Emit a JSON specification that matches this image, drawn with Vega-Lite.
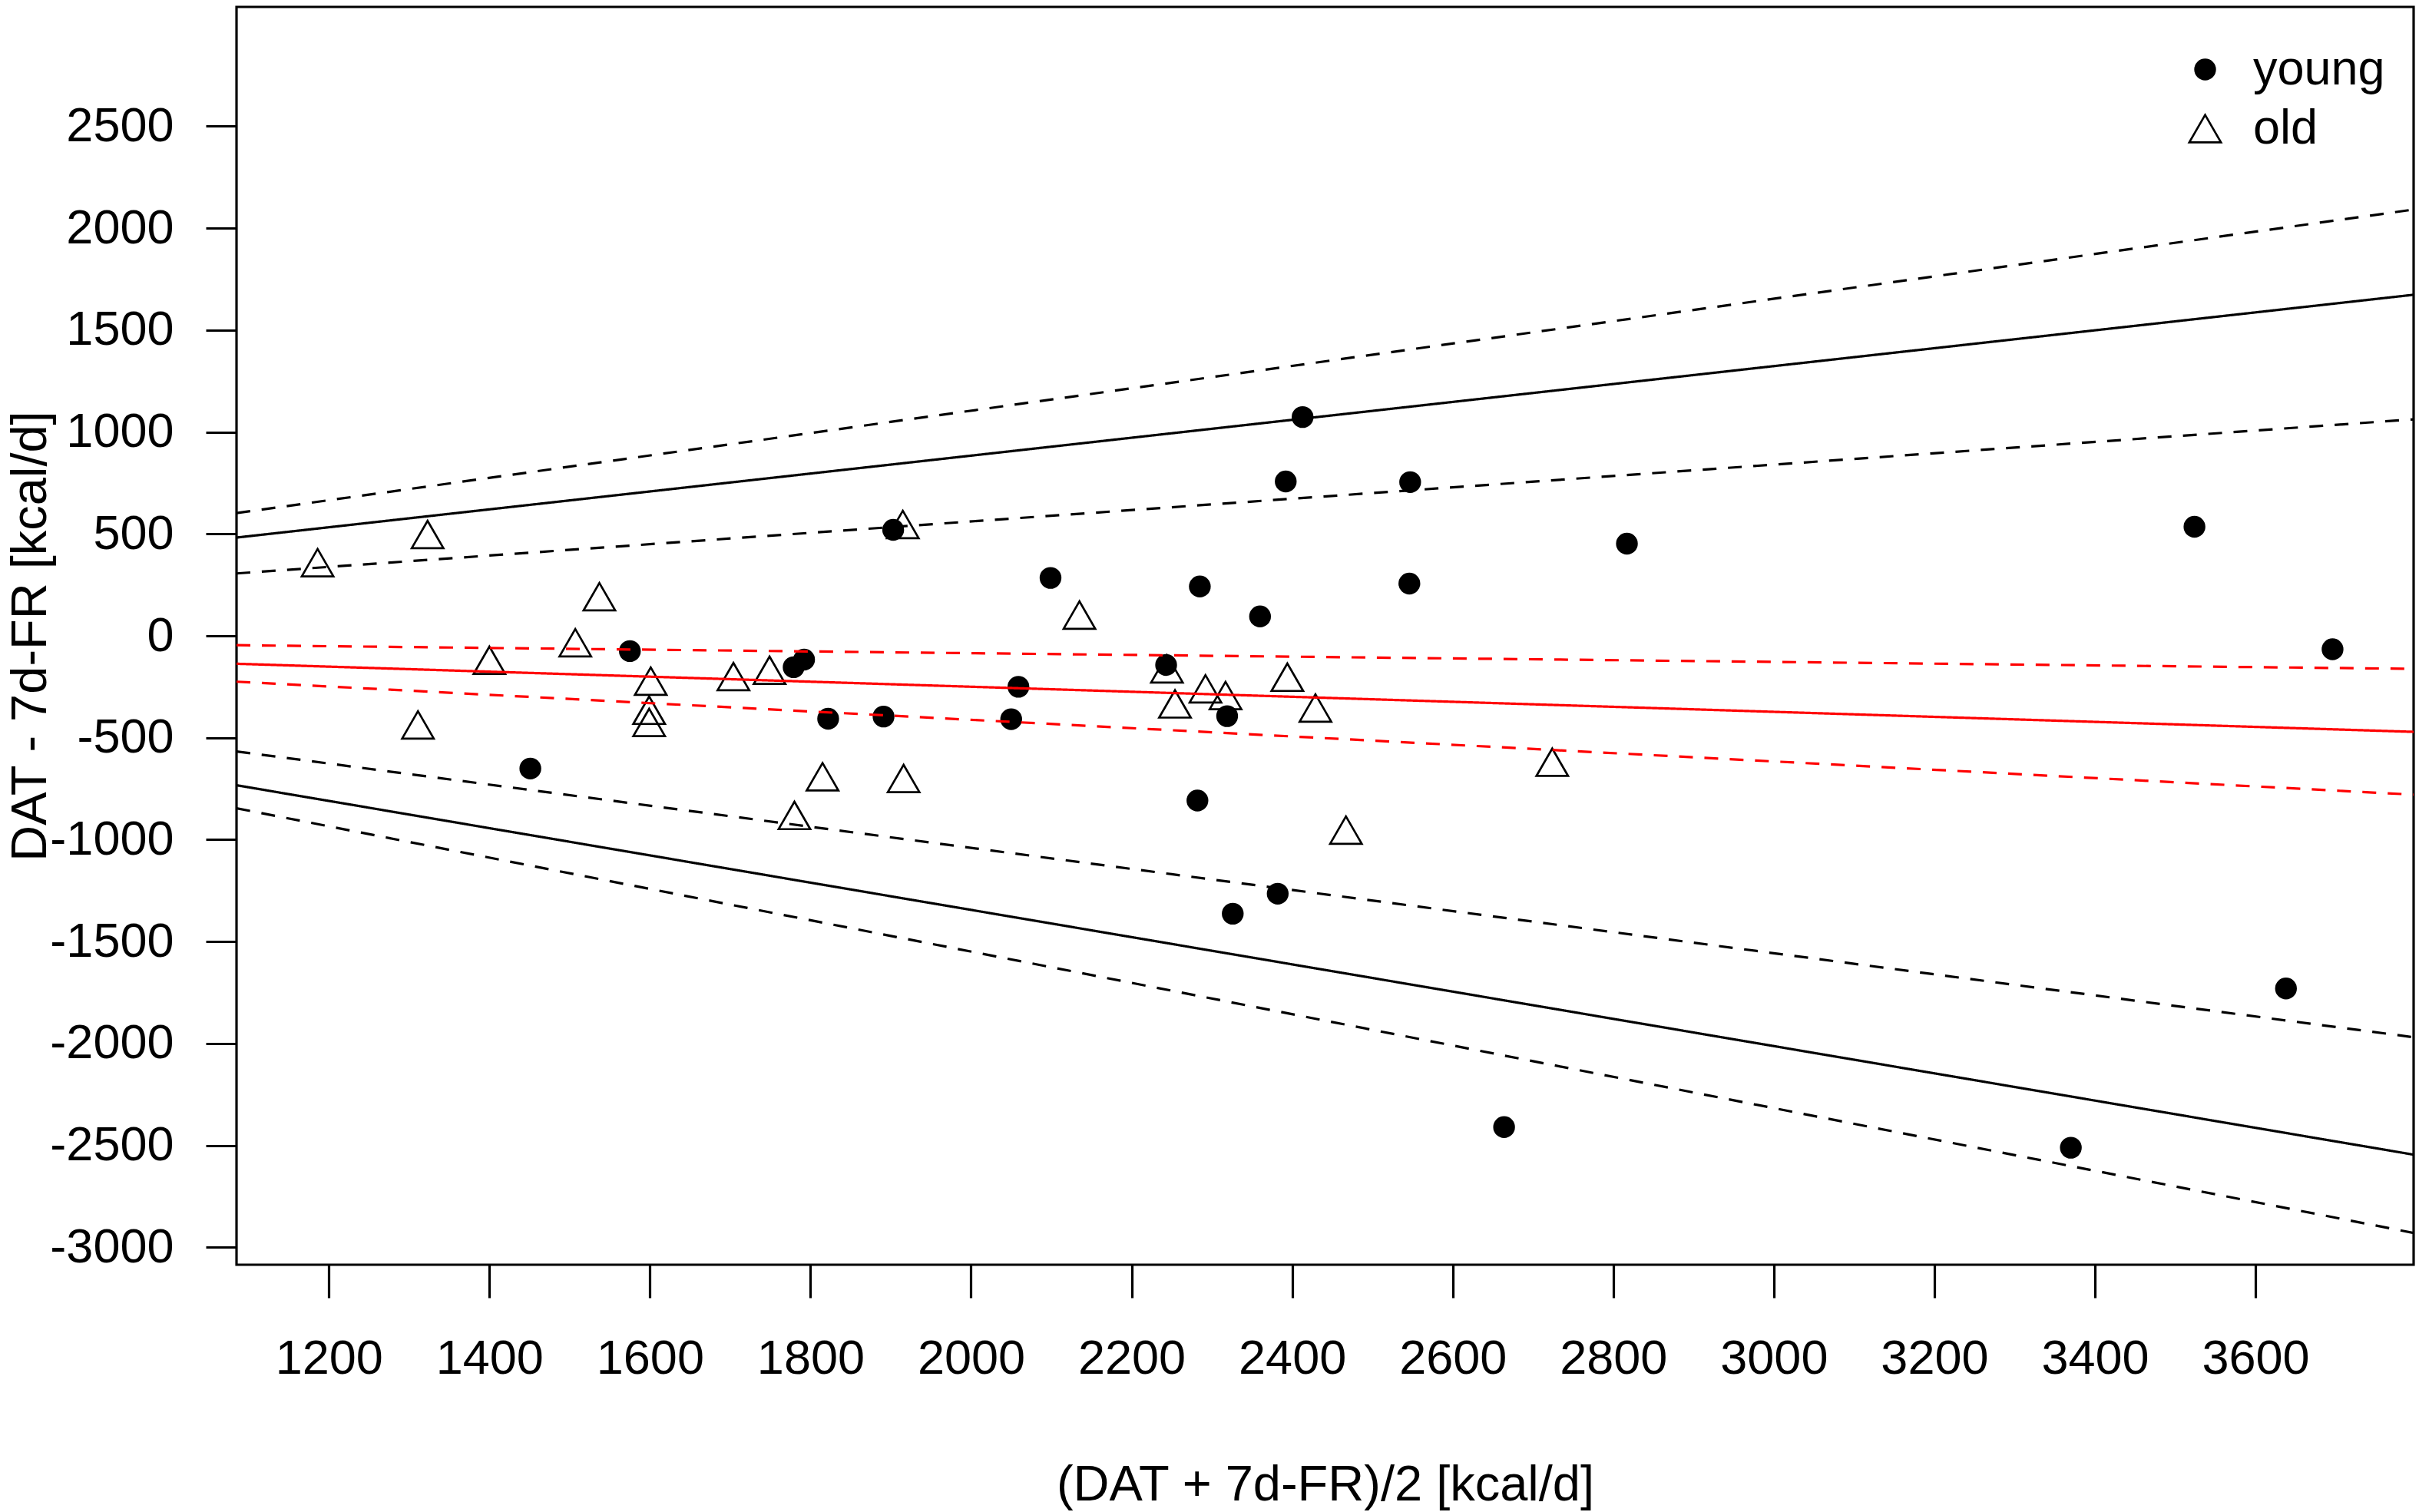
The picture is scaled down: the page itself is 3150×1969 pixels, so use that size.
{
  "$schema": "https://vega.github.io/schema/vega-lite/v6.json",
  "width": 2835,
  "height": 1638,
  "autosize": {"type": "none"},
  "padding": {"left": 308, "top": 9, "right": 7, "bottom": 322},
  "background": "white",
  "config": {
    "font": "Liberation Sans",
    "view": {"stroke": "black", "strokeWidth": 3.2},
    "axis": {
      "domain": false,
      "grid": false,
      "tickColor": "black",
      "tickWidth": 3.2,
      "labelColor": "black",
      "labelFont": "Liberation Sans",
      "labelFontSize": 63,
      "labelLimit": 1000,
      "titleColor": "black",
      "titleFont": "Liberation Sans",
      "titleFontSize": 65,
      "titleFontWeight": "normal",
      "titleLimit": 3000,
      "labelOverlap": false,
      "labelFlush": false
    }
  },
  "datasets": {
    "points": [
      {"group": "young", "mean": 1451, "diff": -651},
      {"group": "young", "mean": 1575, "diff": -75},
      {"group": "young", "mean": 1779, "diff": -154},
      {"group": "young", "mean": 1792, "diff": -117},
      {"group": "young", "mean": 1822, "diff": -407},
      {"group": "young", "mean": 1891, "diff": -396},
      {"group": "young", "mean": 1903, "diff": 520},
      {"group": "young", "mean": 2050, "diff": -409},
      {"group": "young", "mean": 2059, "diff": -250},
      {"group": "young", "mean": 2099, "diff": 284},
      {"group": "young", "mean": 2243, "diff": -143},
      {"group": "young", "mean": 2282, "diff": -808},
      {"group": "young", "mean": 2285, "diff": 242},
      {"group": "young", "mean": 2319, "diff": -394},
      {"group": "young", "mean": 2326, "diff": -1363},
      {"group": "young", "mean": 2360, "diff": 95},
      {"group": "young", "mean": 2382, "diff": -1265},
      {"group": "young", "mean": 2392, "diff": 757},
      {"group": "young", "mean": 2413, "diff": 1073},
      {"group": "young", "mean": 2546, "diff": 256},
      {"group": "young", "mean": 2547, "diff": 754},
      {"group": "young", "mean": 2664, "diff": -2410},
      {"group": "young", "mean": 2817, "diff": 452},
      {"group": "young", "mean": 3370, "diff": -2511},
      {"group": "young", "mean": 3524, "diff": 535},
      {"group": "young", "mean": 3638, "diff": -1730},
      {"group": "young", "mean": 3696, "diff": -66},
      {"group": "old", "mean": 1186, "diff": 359},
      {"group": "old", "mean": 1311, "diff": -437},
      {"group": "old", "mean": 1323, "diff": 497},
      {"group": "old", "mean": 1400, "diff": -120},
      {"group": "old", "mean": 1507, "diff": -34},
      {"group": "old", "mean": 1537, "diff": 192},
      {"group": "old", "mean": 1601, "diff": -222},
      {"group": "old", "mean": 1599, "diff": -365},
      {"group": "old", "mean": 1599, "diff": -425},
      {"group": "old", "mean": 1704, "diff": -200},
      {"group": "old", "mean": 1749, "diff": -169},
      {"group": "old", "mean": 1780, "diff": -881},
      {"group": "old", "mean": 1815, "diff": -691},
      {"group": "old", "mean": 1915, "diff": 546},
      {"group": "old", "mean": 1916, "diff": -700},
      {"group": "old", "mean": 2135, "diff": 102},
      {"group": "old", "mean": 2244, "diff": -162},
      {"group": "old", "mean": 2254, "diff": -334},
      {"group": "old", "mean": 2292, "diff": -260},
      {"group": "old", "mean": 2317, "diff": -293},
      {"group": "old", "mean": 2394, "diff": -203},
      {"group": "old", "mean": 2429, "diff": -354},
      {"group": "old", "mean": 2467, "diff": -953},
      {"group": "old", "mean": 2724, "diff": -620}
    ],
    "lines": [
      {"line": "LoA upper CI outer", "estimate": "limit", "band": "ci", "mean": 1085, "diff": 602},
      {"line": "LoA upper CI outer", "estimate": "limit", "band": "ci", "mean": 3797, "diff": 2091},
      {"line": "LoA upper", "estimate": "limit", "band": "estimate", "mean": 1085, "diff": 482},
      {"line": "LoA upper", "estimate": "limit", "band": "estimate", "mean": 3797, "diff": 1673},
      {"line": "LoA upper CI inner", "estimate": "limit", "band": "ci", "mean": 1085, "diff": 306},
      {"line": "LoA upper CI inner", "estimate": "limit", "band": "ci", "mean": 3797, "diff": 1062},
      {"line": "bias CI upper", "estimate": "bias", "band": "ci", "mean": 1085, "diff": -46},
      {"line": "bias CI upper", "estimate": "bias", "band": "ci", "mean": 3797, "diff": -162},
      {"line": "bias", "estimate": "bias", "band": "estimate", "mean": 1085, "diff": -137},
      {"line": "bias", "estimate": "bias", "band": "estimate", "mean": 3797, "diff": -471},
      {"line": "bias CI lower", "estimate": "bias", "band": "ci", "mean": 1085, "diff": -225},
      {"line": "bias CI lower", "estimate": "bias", "band": "ci", "mean": 3797, "diff": -779},
      {"line": "LoA lower CI inner", "estimate": "limit", "band": "ci", "mean": 1085, "diff": -567},
      {"line": "LoA lower CI inner", "estimate": "limit", "band": "ci", "mean": 3797, "diff": -1969},
      {"line": "LoA lower", "estimate": "limit", "band": "estimate", "mean": 1085, "diff": -733},
      {"line": "LoA lower", "estimate": "limit", "band": "estimate", "mean": 3797, "diff": -2545},
      {"line": "LoA lower CI outer", "estimate": "limit", "band": "ci", "mean": 1085, "diff": -846},
      {"line": "LoA lower CI outer", "estimate": "limit", "band": "ci", "mean": 3797, "diff": -2929}
    ]
  },
  "layer": [
    {
      "data": {"name": "points"},
      "mark": {"type": "point", "stroke": "black", "strokeWidth": 2.7, "opacity": 1, "fillOpacity": 1, "strokeOpacity": 1},
      "encoding": {
        "x": {
          "field": "mean",
          "type": "quantitative",
          "scale": {"domain": [1085, 3797], "nice": false, "zero": false},
          "axis": {
            "title": "(DAT + 7d-FR)/2 [kcal/d]",
            "values": [1200, 1400, 1600, 1800, 2000, 2200, 2400, 2600, 2800, 3000, 3200, 3400, 3600],
            "labelExpr": "'' + datum.value",
            "tickSize": 43,
            "labelPadding": 48,
            "titleY": 306,
            "titleBaseline": "alphabetic"
          }
        },
        "y": {
          "field": "diff",
          "type": "quantitative",
          "scale": {"domain": [-3085, 3085], "nice": false, "zero": false},
          "axis": {
            "title": "DAT - 7d-FR [kcal/d]",
            "values": [-3000, -2500, -2000, -1500, -1000, -500, 0, 500, 1000, 1500, 2000, 2500],
            "labelExpr": "'' + datum.value",
            "tickSize": 40,
            "labelPadding": 42,
            "titleX": -249,
            "titleY": 819,
            "titleBaseline": "alphabetic"
          }
        },
        "shape": {
          "field": "group",
          "type": "nominal",
          "scale": {"domain": ["young", "old"], "range": ["circle", "triangle-up"]},
          "legend": {
            "title": null,
            "orient": "none",
            "legendX": 2532,
            "legendY": 50,
            "padding": 0,
            "labelFont": "Liberation Sans",
            "labelFontSize": 63,
            "labelColor": "black",
            "labelLimit": 1000,
            "labelOffset": 31,
            "rowPadding": 13,
            "symbolStrokeColor": "black",
            "symbolStrokeWidth": 2.7
          }
        },
        "fill": {
          "field": "group",
          "type": "nominal",
          "scale": {"domain": ["young", "old"], "range": ["black", "transparent"]}
        },
        "size": {
          "field": "group",
          "type": "nominal",
          "scale": {"type": "ordinal", "domain": ["young", "old"], "range": [660, 1700]}
        }
      }
    },
    {
      "data": {"name": "lines"},
      "mark": {"type": "line", "strokeWidth": 3.2, "clip": true},
      "encoding": {
        "x": {"field": "mean", "type": "quantitative"},
        "y": {"field": "diff", "type": "quantitative"},
        "detail": {"field": "line", "type": "nominal"},
        "color": {
          "field": "estimate",
          "type": "nominal",
          "scale": {"domain": ["bias", "limit"], "range": ["#FF0000", "black"]},
          "legend": null
        },
        "strokeDash": {
          "field": "band",
          "type": "nominal",
          "scale": {"domain": ["estimate", "ci"], "range": [[1, 0], [18, 15]]},
          "legend": null
        }
      }
    }
  ]
}
